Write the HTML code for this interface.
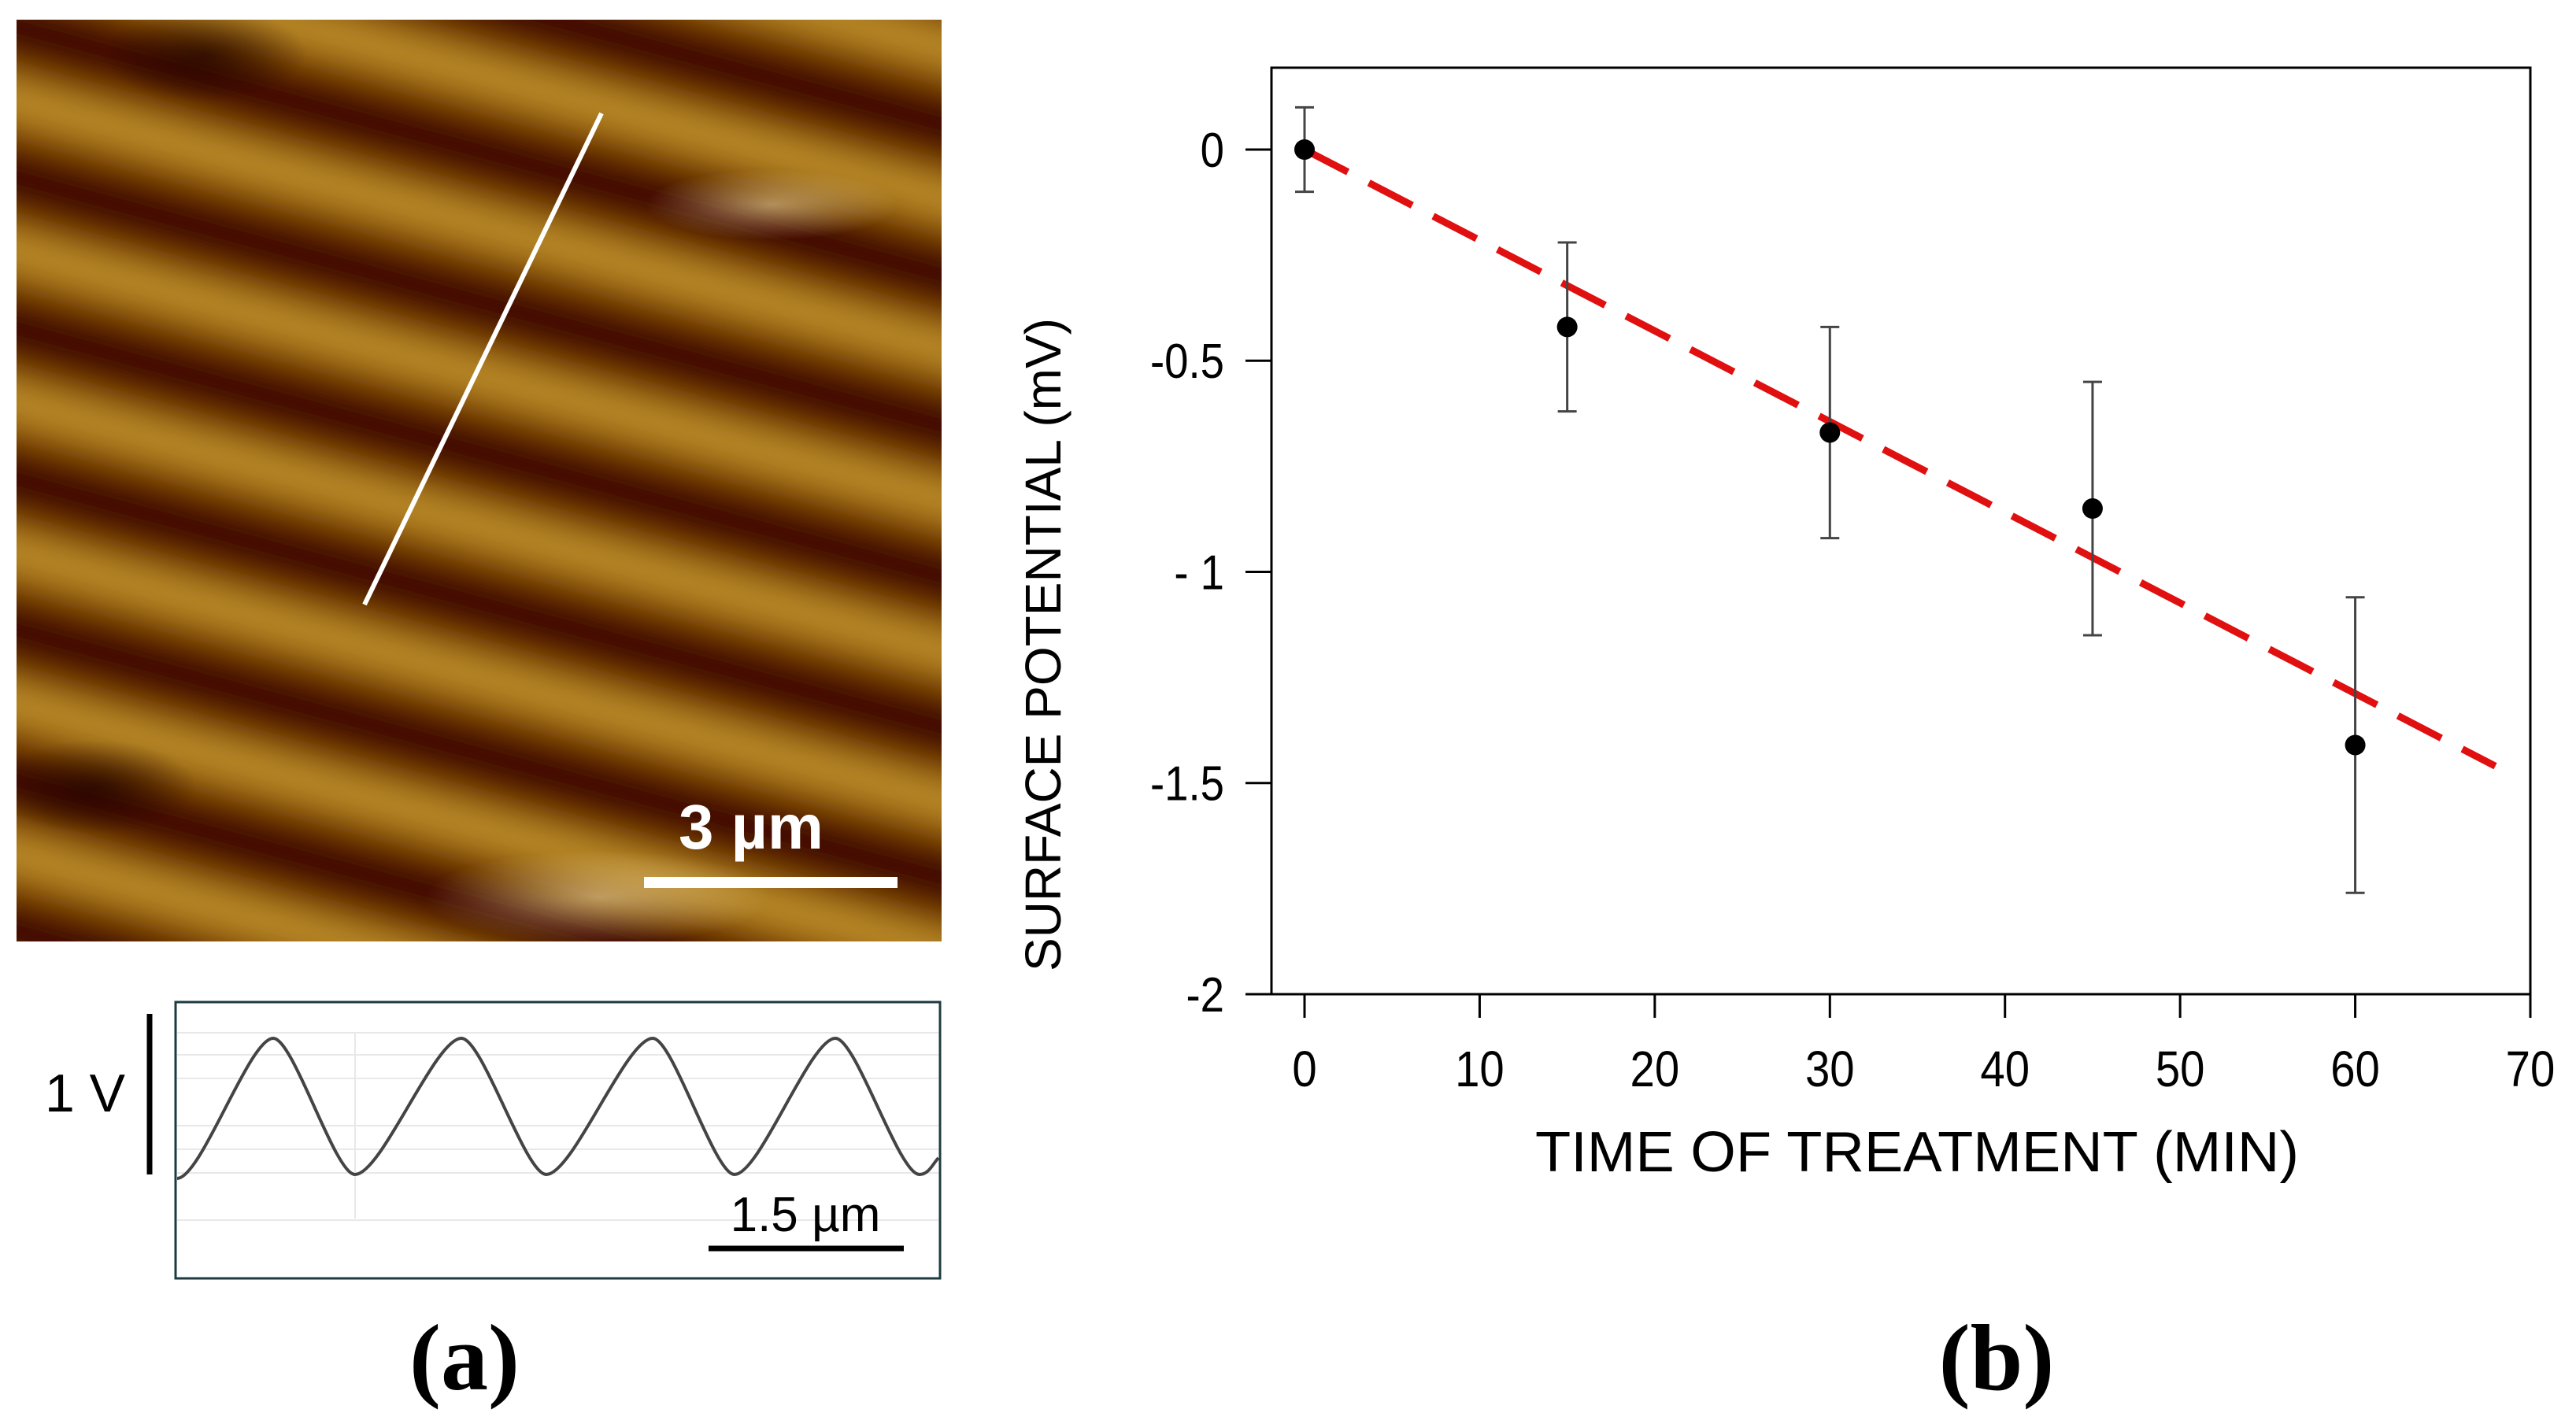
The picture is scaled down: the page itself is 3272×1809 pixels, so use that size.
<!DOCTYPE html>
<html><head><meta charset="utf-8"><style>
html,body{margin:0;padding:0;background:#fff;}
body{width:3272px;height:1809px;position:relative;overflow:hidden;}
</style></head><body>
<svg width="3272" height="1809" viewBox="0 0 3272 1809" xmlns="http://www.w3.org/2000/svg" style="position:absolute;left:0;top:0">
<defs>
  <filter id="blur"><feGaussianBlur stdDeviation="20"/></filter>
  <clipPath id="afmclip"><rect x="21" y="25" width="1175" height="1171"/></clipPath>
  <pattern id="stripes" patternUnits="userSpaceOnUse" width="3000" height="185" patternTransform="rotate(15)">
    <rect width="3000" height="185" fill="#6e3000"/>
    <rect y="0" width="3000" height="55" fill="#3a0600"/>
    <rect y="85" width="3000" height="70" fill="#a06a0c"/>
    <rect y="100" width="3000" height="35" fill="#bc8d2a"/>
  </pattern>
  <radialGradient id="hl1" cx="0.5" cy="0.5" r="0.5"><stop offset="0" stop-color="#e8d098" stop-opacity="0.6"/><stop offset="1" stop-color="#e8d098" stop-opacity="0"/></radialGradient>
  <radialGradient id="dk1" cx="0.5" cy="0.5" r="0.5"><stop offset="0" stop-color="#1a0000" stop-opacity="0.6"/><stop offset="1" stop-color="#1a0000" stop-opacity="0"/></radialGradient>
</defs>

<g clip-path="url(#afmclip)">
  <rect x="21" y="25" width="1175" height="1171" fill="#6e3000"/>
  <rect x="-400" y="-400" width="2200" height="2200" fill="url(#stripes)" filter="url(#blur)"/>
  <ellipse cx="760" cy="1140" rx="220" ry="60" fill="url(#hl1)"/>
  <ellipse cx="980" cy="260" rx="160" ry="45" fill="url(#hl1)"/>
  <ellipse cx="260" cy="70" rx="130" ry="60" fill="url(#dk1)"/>
  <ellipse cx="120" cy="1000" rx="130" ry="60" fill="url(#dk1)"/>
</g>
<line x1="764" y1="144" x2="463" y2="768" stroke="#fff" stroke-width="6"/>
<line x1="818" y1="1121" x2="1140" y2="1121" stroke="#fff" stroke-width="14"/>
<text x="954" y="1078" text-anchor="middle" font-family="Liberation Sans, sans-serif" font-size="80" font-weight="bold" fill="#fff">3 µm</text>

<g>
  <rect x="223" y="1273" width="971" height="351" fill="#fff" stroke="#1e3a40" stroke-width="3"/>
  <g stroke="#e8e8e8" stroke-width="2">
    <line x1="225" y1="1312" x2="1192" y2="1312"/><line x1="225" y1="1340" x2="1192" y2="1340"/>
    <line x1="225" y1="1370" x2="1192" y2="1370"/><line x1="225" y1="1430" x2="1192" y2="1430"/>
    <line x1="225" y1="1460" x2="1192" y2="1460"/><line x1="225" y1="1490" x2="1192" y2="1490"/>
    <line x1="225" y1="1550" x2="1192" y2="1550"/>
    <line x1="451" y1="1312" x2="451" y2="1548"/>
  </g>
  <path id="sine" fill="none" stroke="#444" stroke-width="4"/>
  <line x1="190" y1="1288" x2="190" y2="1492" stroke="#000" stroke-width="7"/>
  <text x="108" y="1412" text-anchor="middle" font-family="Liberation Sans, sans-serif" font-size="68" fill="#000">1 V</text>
  <line x1="900" y1="1586" x2="1148" y2="1586" stroke="#000" stroke-width="7"/>
  <text x="1023" y="1564" text-anchor="middle" font-family="Liberation Sans, sans-serif" font-size="62" fill="#000">1.5 µm</text>
</g>
<text x="590" y="1765" text-anchor="middle" font-family="Liberation Serif, serif" font-weight="bold" font-size="120" fill="#000">(a)</text>
<text x="2536" y="1765" text-anchor="middle" font-family="Liberation Serif, serif" font-weight="bold" font-size="120" fill="#000">(b)</text>

<g id="chart"></g>
</svg>
<script>
const xTicks = [0,10,20,30,40,50,60,70];
const yTicks = [0,-0.5,-1,-1.5,-2];
const yTickLabels = ["0","-0.5","- 1","-1.5","-2"];
const times = [0,15,30,45,60];
const potentials = [0,-0.42,-0.67,-0.85,-1.41];
const errors = [0.1,0.2,0.25,0.3,0.35];
const fitStart = [0,0];
const fitEnd = [68,-1.46];

const NS="http://www.w3.org/2000/svg";
const X = v => 1657 + (v/70)*(3214-1657);
const Y = v => 190 + (-v/2)*(1263-190);
const g = document.getElementById('chart');
function mk(tag, attrs, parent){const e=document.createElementNS(NS,tag);for(const k in attrs)e.setAttribute(k,attrs[k]);(parent||g).appendChild(e);return e;}

let fr = mk('rect',{x:1615,y:86,width:1599,height:1177,fill:'none',stroke:'#000','stroke-width':3});


const font='Liberation Sans, sans-serif';
xTicks.forEach(t=>{
  let l=mk('line',{x1:X(t),y1:1263,x2:X(t),y2:1293,stroke:'#000','stroke-width':3});
  
  
  let tx=mk('text',{x:X(t),y:1380,'text-anchor':'middle','font-family':font,'font-size':64,fill:'#000',transform:`translate(${X(t)},0) scale(0.88,1) translate(${-X(t)},0)`});
  tx.textContent=t;
  
  
});
yTicks.forEach((t,i)=>{
  let l=mk('line',{x1:1582,y1:Y(t),x2:1615,y2:Y(t),stroke:'#000','stroke-width':3});
  
  
  let tx=mk('text',{x:1555,y:Y(t)+22,'text-anchor':'end','font-family':font,'font-size':62,fill:'#000',transform:`translate(1555,0) scale(0.88,1) translate(-1555,0)`});
  tx.textContent=yTickLabels[i];
  
  
});
let xt=mk('text',{x:1950,y:1488,'font-family':font,'font-size':72,fill:'#000',textLength:970,lengthAdjust:'spacingAndGlyphs'});
xt.textContent='TIME OF TREATMENT (MIN)';


let yt=mk('text',{x:-420,y:22,'font-family':font,'font-size':64,fill:'#000',textLength:830,lengthAdjust:'spacingAndGlyphs',transform:'translate(1325,814) rotate(-90)'});
yt.textContent='SURFACE POTENTIAL (mV)';



let fit=mk('line',{x1:X(fitStart[0]),y1:Y(fitStart[1]),x2:X(fitEnd[0]),y2:Y(fitEnd[1]),stroke:'#e01010','stroke-width':9,'stroke-dasharray':'62 30'});



times.forEach((t,i)=>{
  const x=X(t),p=potentials[i],e=errors[i];
  let eb=mk('path',{d:`M${x},${Y(p+e)}V${Y(p-e)}M${x-12},${Y(p+e)}H${x+12}M${x-12},${Y(p-e)}H${x+12}`,stroke:'#444','stroke-width':3,fill:'none'});
  
  
  let c=mk('circle',{cx:x,cy:Y(p),r:13,fill:'#000'});
  
  
});

const peaksX=[347,586,829,1061], troughsX=[451,694,933,1168];
(function(){
  const ext=[];
  for(let i=0;i<4;i++){ext.push([peaksX[i],1319]);ext.push([troughsX[i],1492]);}
  let d=`M225,1497`;
  let prev=[225,1497];
  ext.forEach(p=>{const dx=p[0]-prev[0];d+=` C${prev[0]+dx*0.25},${prev[1]} ${p[0]-dx*0.25},${p[1]} ${p[0]},${p[1]}`;prev=p;});
  d+=` C1180,1492 1185,1478 1192,1471`;
  document.getElementById('sine').setAttribute('d',d);
})();
</script>
</body></html>
